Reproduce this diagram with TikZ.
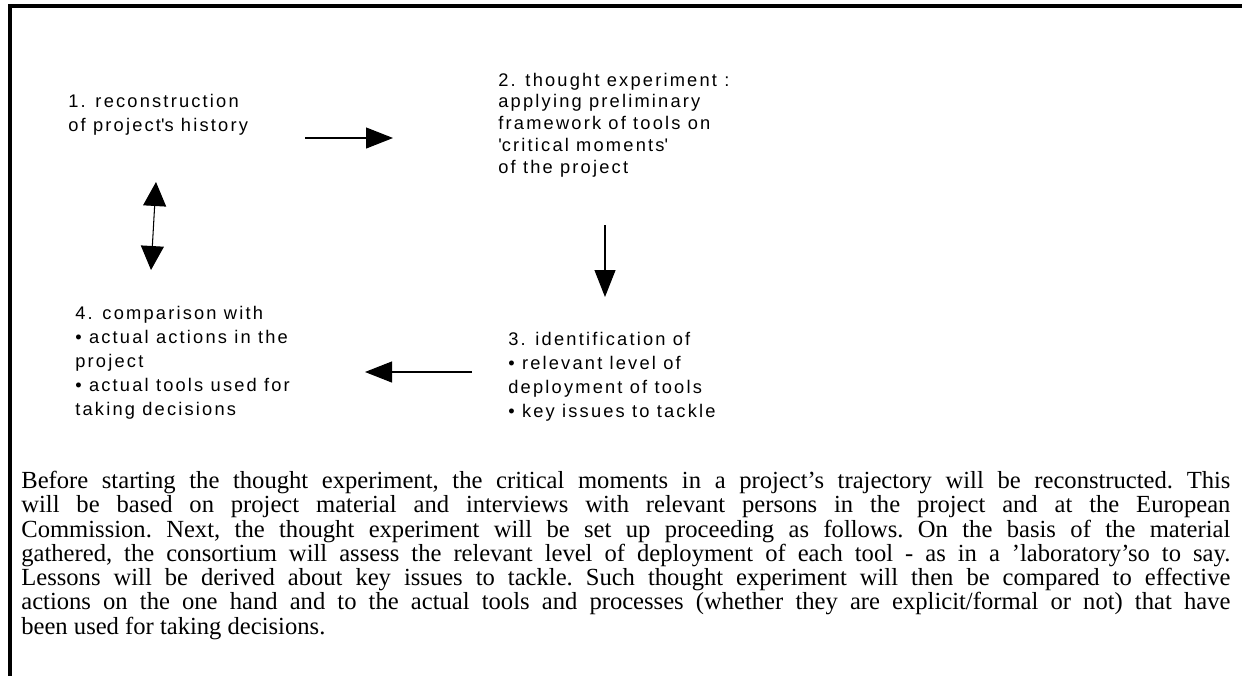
\documentclass[tikz,border=0pt]{standalone}
\usepackage{fontspec}
\setmainfont{Liberation Serif}
\newfontfamily\diagfont[LetterSpace=12]{Liberation Sans}
\usetikzlibrary{arrows.meta,positioning,calc}

\begin{document}
\begin{tikzpicture}[
    stage/.style={
        anchor=north west, inner sep=0pt,
        align=left, font=\diagfont\fontsize{10.4}{13.66}\selectfont,
    },
    flow/.style={-{Triangle[length=0.54cm,width=0.42cm]}, line width=0.6pt},
    twoway/.style={{Triangle[length=0.48cm,width=0.46cm]}-{Triangle[length=0.48cm,width=0.46cm]}, line width=0.6pt},
    frame/.style={line width=2pt},
    body/.style={
        anchor=north west, inner sep=0pt,
        text width=24.18cm, align=justify,
        font=\fontsize{14}{13.8}\selectfont\frenchspacing,
    },
]

\useasboundingbox (0,0) rectangle (24.84,-13.5);

% Frame (top and left rule)
\draw[frame] (0.2,-13.6) -- (0.2,-0.12) -- (24.9,-0.12);

% Stages of the cycle
\node[stage] (recon) at (1.36,-1.88) {
    1. reconstruction \\
    of project\textquotesingle s history
};
\node[stage, font=\diagfont\fontsize{10.4}{12.4}\selectfont] (thought) at (9.96,-1.45) {
    2. thought experiment : \\
    applying preliminary \\
    framework of tools on \\
    \textquotesingle critical moments\textquotesingle \\
    of the project
};
\node[stage] (ident) at (10.16,-6.64) {
    3. identification of \\
    • relevant level of \\
    deployment of tools \\
    • key issues to tackle
};
\node[stage] (compare) at (1.50,-6.12) {
    4. comparison with \\
    • actual actions in the \\
    project \\
    • actual tools used for \\
    taking decisions
};

% Arrow ends
\coordinate (a12s) at (6.10,-2.76);
\coordinate (a12e) at (7.86,-2.76);
\coordinate (a23s) at (12.10,-4.50);
\coordinate (a23e) at (12.10,-5.94);
\coordinate (a34s) at (9.44,-7.44);
\coordinate (a34e) at (7.30,-7.44);
\coordinate (a41s) at (3.02,-5.40);
\coordinate (a41e) at (3.12,-3.64);

\draw[flow] (a12s) -- (a12e);
\draw[flow] (a23s) -- (a23e);
\draw[flow] (a34s) -- (a34e);
\draw[twoway] (a41s) -- (a41e);

% Explanation below the cycle
\node[body] (explain) at (0.42,-9.42) {%
Before starting the thought experiment, the critical moments in a project’s trajectory will be reconstructed. This\linebreak
will be based on project material and interviews with relevant persons in the project and at the European\linebreak
Commission. Next, the thought experiment will be set up proceeding as follows. On the basis of the material\linebreak
gathered, the consortium will assess the relevant level of deployment of each tool - as in a ’laboratory’so to say.\linebreak
Lessons will be derived about key issues to tackle. Such thought experiment will then be compared to effective\linebreak
actions on the one hand and to the actual tools and processes (whether they are explicit/formal or not) that have\linebreak
been used for taking decisions.%
};

\end{tikzpicture}
\end{document}
